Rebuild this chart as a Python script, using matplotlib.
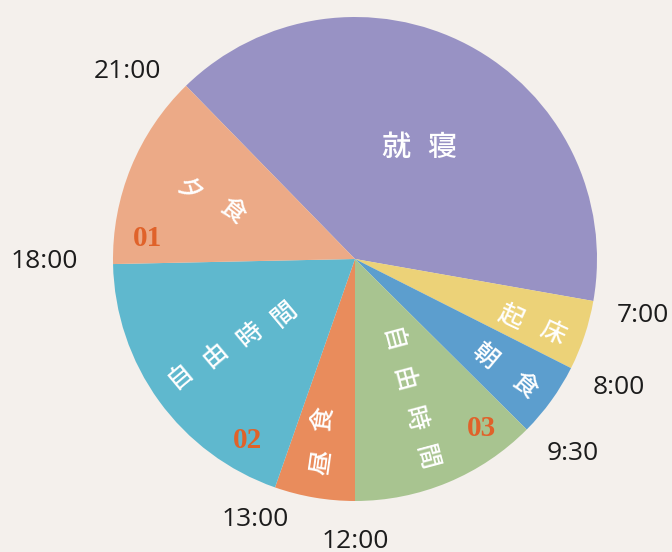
import matplotlib
matplotlib.use("Agg")
import matplotlib.pyplot as plt

# ---- data (angular spans, degrees, clockwise from the 21:00 line)
activities = ["就寝", "起床", "朝食", "自由時間", "昼食", "自由時間", "夕食"]
spans_deg = [144.3, 16.8, 18.0, 45.2, 19.3, 69.5, 46.9]
colors = ["#9892c4", "#ecd278", "#5c9ece", "#a8c490", "#e98c5c", "#5fb8ce", "#ecaa87"]
time_labels = ["21:00", "7:00", "8:00", "9:30", "12:00", "13:00", "18:00"]
numbers = ["01", "02", "03"]

W, H = 672, 552
BG = "#f4f0ec"
fig = plt.figure(figsize=(W / 100, H / 100), dpi=100, facecolor=BG)
ax = fig.add_axes([0, 0, 1, 1])
ax.set_facecolor(BG)

def P(px, py):
    return (px, H - py)

cx, cy = P(355, 259)
ax.pie(spans_deg, colors=colors, startangle=134.3, counterclock=False,
       center=(cx, cy), radius=242, wedgeprops=dict(linewidth=0))
ax.set_xlim(0, W)
ax.set_ylim(0, H)
ax.set_aspect("equal", adjustable="box")
ax.axis("off")

JP = ["Noto Sans CJK JP", "DejaVu Sans"]

def place_chars(text, first, last, rot, size):
    n = len(text)
    x0, y0 = P(*first)
    x1, y1 = P(*last)
    for i, ch in enumerate(text):
        t = i / (n - 1) if n > 1 else 0
        ax.text(x0 + (x1 - x0) * t, y0 + (y1 - y0) * t, ch, color="white",
                fontsize=size, family=JP, fontweight="medium", rotation=rot,
                rotation_mode="anchor", ha="center", va="center")

place_chars(activities[0], (396, 147), (442, 147), 0, 21)
place_chars(activities[1], (511, 316), (553, 333), -25, 18)
place_chars(activities[2], (484, 356), (524, 386), -40, 18)
place_chars(activities[3], (391, 341), (426, 458), -75, 18)
place_chars(activities[4], (322, 462), (324, 419), 82, 18)
place_chars(activities[5], (180, 376), (285, 314), 40, 18)
place_chars(activities[6], (189, 190), (232, 212), -38, 18)

# time labels
time_pos = [(127, 72), (643, 315), (619, 387), (573, 453), (355, 541), (255, 519), (44, 262)]
for lab, (px, py) in zip(time_labels, time_pos):
    ax.text(*P(px, py), lab, color="#1c1c1c", fontsize=19, family="Open Sans",
            ha="center", va="center", clip_on=False)

# segment numbers
num_pos = [(148, 239), (248, 440), (481, 428)]
for lab, (px, py) in zip(numbers, num_pos):
    ax.text(*P(px, py), lab, color="#e0622a", fontsize=21, family="Liberation Serif",
            fontweight="bold", ha="center", va="center")

fig.savefig("out.png", dpi=100, facecolor=BG)
